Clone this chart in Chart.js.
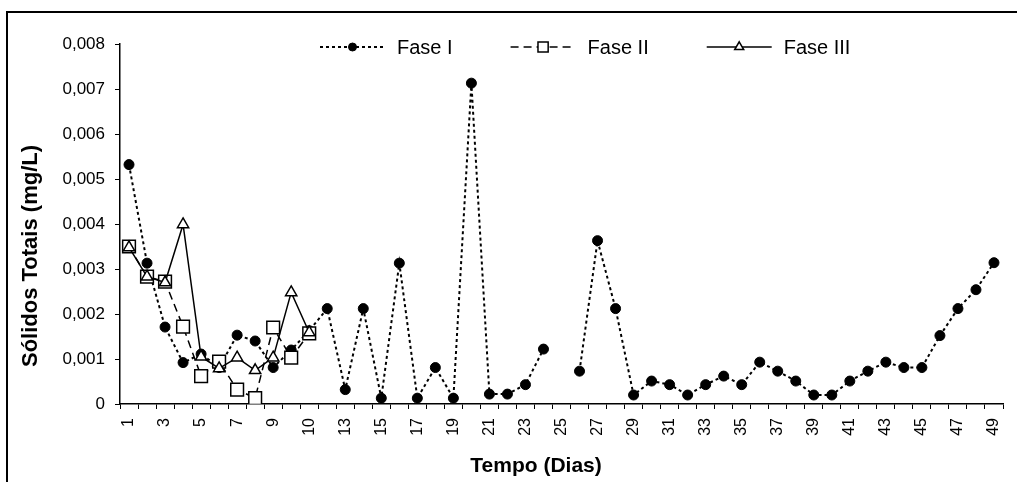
<!DOCTYPE html>
<html>
<head>
<meta charset="utf-8">
<script src="https://cdn.jsdelivr.net/npm/chart.js@4.4.1/dist/chart.umd.min.js"></script>
<style>
  html, body { margin: 0; padding: 0; background: #fff; }
  #wrap { position: relative; width: 1017px; height: 482px; overflow: hidden; }
  #frame { position: absolute; left: 6px; top: 11px; width: 1040px; height: 520px; border: 2px solid #000; box-sizing: border-box; pointer-events: none; }
  canvas { position: absolute; left: 0; top: 0; }
</style>
</head>
<body>
<div id="wrap">
  <canvas id="chart" width="1017" height="482"></canvas>
  <div id="frame"></div>
</div>
<script>
// dias (categorias do eixo X)
const days = ['1', '2', '3', '4', '5', '6', '7', '8', '9', '10', '10', '12', '13', '14', '15', '16', '17',
    '18', '19', '20', '21', '22', '23', '24', '25', '26', '27', '28', '29', '30', '31', '32', '33',
    '34', '35', '36', '37', '38', '39', '40', '41', '42', '43', '44', '45', '46', '47', '48', '49'];

const faseI = [0.00532, 0.00313, 0.00171, 0.00092, 0.00111, 0.00081, 0.00153, 0.00140, 0.00081, 0.00120,
    0.00163, 0.00212, 0.00032, 0.00212, 0.00013, 0.00313, 0.00013, 0.00081, 0.00013, 0.00713,
    0.00022, 0.00022, 0.00043, 0.00122, null, 0.00073, 0.00363, 0.00212, 0.00020, 0.00051,
    0.00043, 0.00020, 0.00043, 0.00062, 0.00043, 0.00093, 0.00073, 0.00051, 0.00020, 0.00020,
    0.00051, 0.00073, 0.00093, 0.00081, 0.00081, 0.00152, 0.00212, 0.00254, 0.00314];

const faseII = [0.00350, 0.00283, 0.00272, 0.00172, 0.00062, 0.00094, 0.00032, 0.00013, 0.00170, 0.00103, 0.00157];

const faseIII = [0.00348, 0.00283, 0.00270, 0.00399, 0.00105, 0.00079, 0.00103, 0.00075, 0.00103, 0.00248, 0.00159];

const yTicks = ['0', '0,001', '0,002', '0,003', '0,004', '0,005', '0,006', '0,007', '0,008'];

const xTitle = 'Tempo (Dias)';
const yTitle = 'Sólidos Totais (mg/L)';

const FONT = "Arial, 'Liberation Sans', sans-serif";

// legenda desenhada dentro da área do gráfico (linha + marcador + texto)
const lineLegend = {
    id: 'lineLegend',
    afterDraw(chart, args, opts) {
        const ctx = chart.ctx;
        const y = opts.y;
        let x = opts.x;
        ctx.save();
        ctx.font = opts.font;
        chart.data.datasets.forEach((ds) => {
            ctx.strokeStyle = ds.borderColor;
            ctx.lineWidth = ds.borderWidth;
            ctx.setLineDash(ds.borderDash || []);
            ctx.beginPath();
            ctx.moveTo(x, y);
            ctx.lineTo(x + opts.lineLength, y);
            ctx.stroke();
            ctx.setLineDash([]);

            ctx.fillStyle = ds.pointBackgroundColor;
            ctx.strokeStyle = ds.pointBorderColor;
            ctx.lineWidth = ds.pointBorderWidth;
            Chart.helpers.drawPoint(ctx, {
                pointStyle: ds.pointStyle,
                radius: ds.pointRadius * opts.markerScale,
                rotation: 0,
                borderWidth: ds.pointBorderWidth,
            }, x + opts.lineLength / 2, y);

            ctx.fillStyle = '#000';
            ctx.textBaseline = 'middle';
            ctx.textAlign = 'left';
            const tx = x + opts.lineLength + opts.textGap;
            ctx.fillText(ds.label, tx, y + 1);
            x = tx + ctx.measureText(ds.label).width + opts.itemGap;
        });
        ctx.restore();
    },
};

// títulos dos eixos (centralizados na moldura, não na área do gráfico)
const axisTitles = {
    id: 'axisTitles',
    afterDraw(chart, args, opts) {
        const ctx = chart.ctx;
        ctx.save();
        ctx.fillStyle = '#000';
        ctx.textAlign = 'center';
        ctx.textBaseline = 'middle';
        ctx.font = opts.xFont;
        ctx.fillText(xTitle, opts.xPos[0], opts.xPos[1]);
        ctx.translate(opts.yPos[0], opts.yPos[1]);
        ctx.rotate(-Math.PI / 2);
        ctx.font = opts.yFont;
        ctx.fillText(yTitle, 0, 0);
        ctx.restore();
    },
};

new Chart(document.getElementById('chart'), {
    type: 'line',
    data: {
        labels: days,
        datasets: [{
            label: 'Fase I',
            data: faseI,
            borderColor: '#000',
            borderWidth: 2,
            borderDash: [3, 3],
            pointStyle: 'circle',
            pointRadius: 5,
            pointBackgroundColor: '#000',
            pointBorderColor: '#000',
            pointBorderWidth: 1,
            spanGaps: false,
            order: 3,
        }, {
            label: 'Fase II',
            data: faseII,
            borderColor: '#000',
            borderWidth: 1.5,
            borderDash: [8, 5],
            pointStyle: 'rect',
            pointRadius: 9,
            pointBackgroundColor: '#fff',
            pointBorderColor: '#000',
            pointBorderWidth: 1.5,
            order: 2,
        }, {
            label: 'Fase III',
            data: faseIII,
            borderColor: '#000',
            borderWidth: 1.5,
            borderDash: [],
            pointStyle: 'triangle',
            pointRadius: 6.5,
            pointBackgroundColor: '#fff',
            pointBorderColor: '#000',
            pointBorderWidth: 1.5,
            order: 1,
        }],
    },
    options: {
        responsive: false,
        animation: false,
        layout: {
            padding: { left: 0, top: 44, right: 14, bottom: 0 },
        },
        plugins: {
            legend: { display: false },
            tooltip: { enabled: false },
            lineLegend: {
                x: 320,
                y: 47,
                lineLength: 65,
                textGap: 12,
                itemGap: 58,
                markerScale: 0.8,
                font: '20px ' + FONT,
            },
            axisTitles: {
                xPos: [536, 466],
                yPos: [31, 256],
                xFont: 'bold 21px ' + FONT,
                yFont: 'bold 22px ' + FONT,
            },
        },
        scales: {
            x: {
                type: 'category',
                offset: true,
                grid: {
                    display: true,
                    drawOnChartArea: false,
                    offset: true,
                    color: '#000',
                    tickLength: 5,
                    tickWidth: 1,
                },
                border: { color: '#000', width: 1.5 },
                ticks: {
                    autoSkip: false,
                    minRotation: 90,
                    maxRotation: 90,
                    padding: 9,
                    color: '#000',
                    font: { family: FONT, size: 16 },
                    callback: (v, i) => (i % 2 === 0 ? days[i] : ''),
                },
                afterFit: (scale) => {
                    scale.height = 78;
                    scale.paddingLeft = 0;
                    scale.paddingRight = 0;
                },
            },
            y: {
                min: 0,
                max: 0.008,
                grid: {
                    display: true,
                    drawOnChartArea: false,
                    color: '#000',
                    tickLength: 5,
                    tickWidth: 1,
                },
                border: { color: '#000', width: 1.5 },
                ticks: {
                    stepSize: 0.001,
                    padding: 10,
                    color: '#000',
                    font: { family: FONT, size: 17 },
                    callback: (v, i) => yTicks[i],
                },
                afterFit: (scale) => { scale.width = 120; },
            },
        },
    },
    plugins: [lineLegend, axisTitles],
});
</script>
</body>
</html>
